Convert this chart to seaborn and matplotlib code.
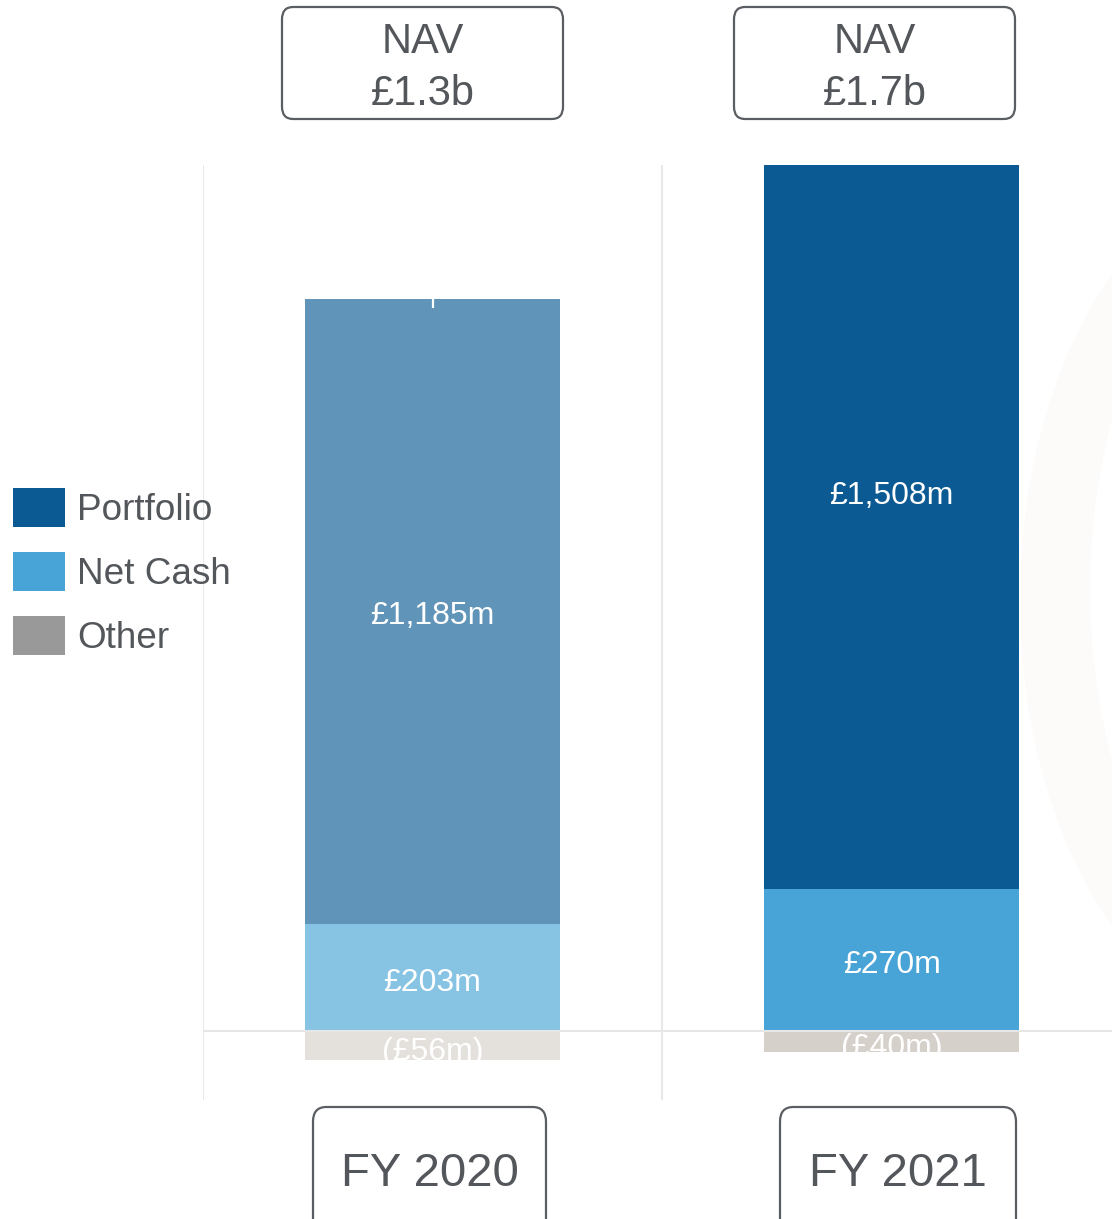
import matplotlib
matplotlib.use("Agg")
import matplotlib.pyplot as plt
from matplotlib.patches import FancyBboxPatch, Patch, Ellipse
import pandas as pd
import seaborn as sns

years = ["FY 2020", "FY 2021"]
nav_labels = ["NAV\n£1.3b", "NAV\n£1.7b"]
portfolio = [1185, 1508]
net_cash = [203, 270]
other = [-56, -40]

# 2020 drawn in faded tones, 2021 in full tones
portfolio_colors = ["#6094b9", "#0c5a93"]
cash_colors = ["#87c3e3", "#48a3d6"]
other_colors = ["#e4e0dc", "#d6d0ca"]
legend_colors = ["#0c5a93", "#48a3d6", "#999999"]
text_color = "#53565a"

df = pd.DataFrame({"year": years, "portfolio": portfolio,
                   "net_cash": net_cash, "other": other})
df["total"] = df["portfolio"] + df["net_cash"]

sns.set_theme(style="white")
plt.rcParams["font.family"] = ["Liberation Sans", "DejaVu Sans"]

fig = plt.figure(figsize=(11.12, 12.19), dpi=100)
W, H = 1112, 1219

# faint crescent decoration on the right
outer = Ellipse((1300 / W, 1 - 600 / H), 560 / W, 880 / H, transform=fig.transFigure,
                facecolor="#fcfbfa", edgecolor="none", zorder=0)
inner = Ellipse((1300 / W, 1 - 590 / H), 420 / W, 760 / H, transform=fig.transFigure,
                facecolor="white", edgecolor="none", zorder=0)
fig.patches.extend([outer, inner])

ax = fig.add_axes([203 / W, (H - 1100) / H, (W - 203) / W, 935 / H])
ax.set_facecolor("none")

bar_kw = dict(data=df, x="year", hue="year", width=0.556, legend=False, ax=ax,
              edgecolor="none", saturation=1, zorder=3)
sns.barplot(y="total", palette=portfolio_colors, **bar_kw)
sns.barplot(y="net_cash", palette=cash_colors, **bar_kw)
sns.barplot(y="other", palette=other_colors, **bar_kw)

ax.set_xlim(-0.5, 1.48)
ax.set_ylim(-131, 1643)
for x in [-0.5, 0.5]:
    ax.axvline(x, color="#e8e8e8", lw=1.5, zorder=1)
ax.axhline(0, color="#e6e6e6", lw=1.5, zorder=4)
ax.set_xticks([])
ax.set_yticks([])
ax.set_xlabel("")
ax.set_ylabel("")
for s in ax.spines.values():
    s.set_visible(False)

# small white tick at the top of the 2020 bar
ax.plot([0, 0], [df["total"][0], df["total"][0] - 16], color="white", lw=1.6,
        solid_capstyle="butt", zorder=4)

lab_kw = dict(ha="center", va="center", color="white", fontsize=23, zorder=5)
for i, row in df.iterrows():
    ax.text(i, row["net_cash"] + row["portfolio"] / 2 - 9, f"£{row['portfolio']:,}m", **lab_kw)
    ax.text(i, row["net_cash"] / 2 - 10, f"£{row['net_cash']}m", **lab_kw)
    ax.text(i, row["other"] / 2 - 12, f"(£{-row['other']}m)", **lab_kw)

# NAV boxes on top
nav_boxes = [(282, 563), (734, 1015)]
for (x0, x1), lab in zip(nav_boxes, nav_labels):
    box = FancyBboxPatch((x0 / W, 1 - 119 / H), (x1 - x0) / W, 112 / H,
                         boxstyle="round,pad=0,rounding_size=0.01",
                         transform=fig.transFigure, facecolor="white",
                         edgecolor="#5a5d61", lw=1.6)
    fig.patches.append(box)
    fig.text((x0 + x1) / 2 / W, 1 - 68 / H, lab, ha="center", va="center",
             fontsize=30, color=text_color, linespacing=1.4)

# year boxes at the bottom
year_boxes = [(313, 546), (780, 1016)]
for (x0, x1), lab in zip(year_boxes, years):
    box = FancyBboxPatch((x0 / W, 1 - 1240 / H), (x1 - x0) / W, 133 / H,
                         boxstyle="round,pad=0,rounding_size=0.012",
                         transform=fig.transFigure, facecolor="white",
                         edgecolor="#5a5d61", lw=1.6)
    fig.patches.append(box)
    fig.text((x0 + x1) / 2 / W, 1 - 1174 / H, lab, ha="center", va="center",
             fontsize=34, color=text_color)

handles = [Patch(facecolor=c, edgecolor="none") for c in legend_colors]
fig.legend(handles, ["Portfolio", "Net Cash", "Other"], loc="center left",
           bbox_to_anchor=(0.0, 1 - 572 / H), frameon=False, fontsize=26.6,
           labelcolor=text_color, handlelength=1.4, handleheight=1.25,
           handletextpad=0.34, labelspacing=0.66, borderaxespad=0, borderpad=0.35)

fig.savefig("out.png", dpi=100)
